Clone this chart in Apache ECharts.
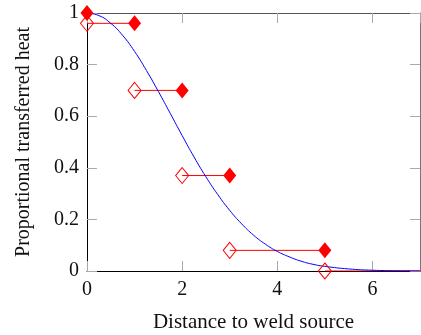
<!DOCTYPE html>
<html><head><meta charset="utf-8">
<script src="https://cdn.jsdelivr.net/npm/echarts@6/dist/echarts.min.js"></script>
<style>html,body{margin:0;padding:0;background:#fff}#c{width:421px;height:335px}</style>
</head><body><div id="c"></div>
<script>
// Blue curve
var curveX = [0,0.25,0.5,0.75,1,1.25,1.5,1.75,2,2.25,2.5,2.75,3,3.25,3.5,3.75,4,4.25,4.5,4.75,5,5.5,6,6.5,7];
var curveY = [1,0.99,0.96,0.913,0.851,0.777,0.696,0.611,0.525,0.442,0.365,0.296,0.235,0.183,0.139,0.104,0.076,0.055,0.038,0.026,0.018,0.008,0.003,0.001,0.0004];
// Filled diamonds
var filledX = [0,1,2,3,5];
var filledY = [1,0.96,0.70,0.37,0.08];
// Open diamonds
var openX = [0,1,2,3,5];
var openY = [0.96,0.70,0.37,0.08,0];
// Horizontal segments: start x, end x, y
var segStart = [0,1,2,3,5];
var segEnd = [1,2,3,5,7.5];
var segY = [0.96,0.70,0.37,0.08,0];
var xTicks = [0,2,4,6];
var yTicks = [0,0.2,0.4,0.6,0.8,1];

var font = '"Liberation Serif", "DejaVu Serif", serif';
var series = [];
for (var i=0;i<segStart.length;i++){
  series.push({type:'line', data:[[segStart[i],segY[i]],[segEnd[i],segY[i]]], symbol:'none',
    lineStyle:{color:'#ff0000', width:1}, z:3, silent:true});
}
series.push({type:'line', data: curveX.map(function(x,i){return [x,curveY[i]];}), smooth:true, symbol:'none',
  lineStyle:{color:'#0000ff', width:1}, z:4});
series.push({type:'scatter', data: openX.map(function(x,i){return [x,openY[i]];}), symbol:'diamond', symbolSize:[13,16],
  itemStyle:{color:'none', borderColor:'#ff0000', borderWidth:1, opacity:1}, clip:false, z:5});
series.push({type:'scatter', data: filledX.map(function(x,i){return [x,filledY[i]];}), symbol:'diamond', symbolSize:[13,16],
  itemStyle:{color:'#ff0000', opacity:1}, clip:false, z:6});

var tickStyle = {show:true, inside:true, length:10, lineStyle:{color:'#aaaaaa', width:1}};
var chart = echarts.init(document.getElementById('c'));
chart.setOption({
  animation:false,
  grid:{left:87, right:1, top:13, bottom:64, containLabel:false, outerBoundsMode:'none'},
  xAxis:[{type:'value', min:0, max:7, interval:2, position:'bottom',
      axisLine:{show:true, onZero:false, lineStyle:{color:'#000', width:1}},
      axisTick:tickStyle, splitLine:{show:false},
      axisLabel:{showMaxLabel:false, color:'#111', fontFamily:font, fontSize:20, margin:9},
      name:'Distance to weld source', nameLocation:'middle', nameGap:41,
      nameTextStyle:{color:'#111', fontFamily:font, fontSize:21}},
    {type:'value', min:0, max:7, interval:2, position:'top',
      axisLine:{show:true, onZero:false, lineStyle:{color:'#555', width:1}},
      axisTick:tickStyle, axisLabel:{show:false}, splitLine:{show:false}}],
  yAxis:[{type:'value', min:0, max:1, interval:0.2, position:'left',
      axisLine:{show:true, onZero:false, lineStyle:{color:'#000', width:1}},
      axisTick:tickStyle, splitLine:{show:false},
      axisLabel:{color:'#111', fontFamily:font, fontSize:20, margin:8,
        formatter:function(v){return String(Math.round(v*10)/10);}},
      name:'Proportional transferred heat', nameLocation:'middle', nameGap:53,
      nameTextStyle:{color:'#111', fontFamily:font, fontSize:20}},
    {type:'value', min:0, max:1, interval:0.2, position:'right',
      axisLine:{show:true, onZero:false, lineStyle:{color:'#777', width:1}},
      axisTick:tickStyle, axisLabel:{show:false}, splitLine:{show:false}}],
  series:series
});
</script></body></html>
